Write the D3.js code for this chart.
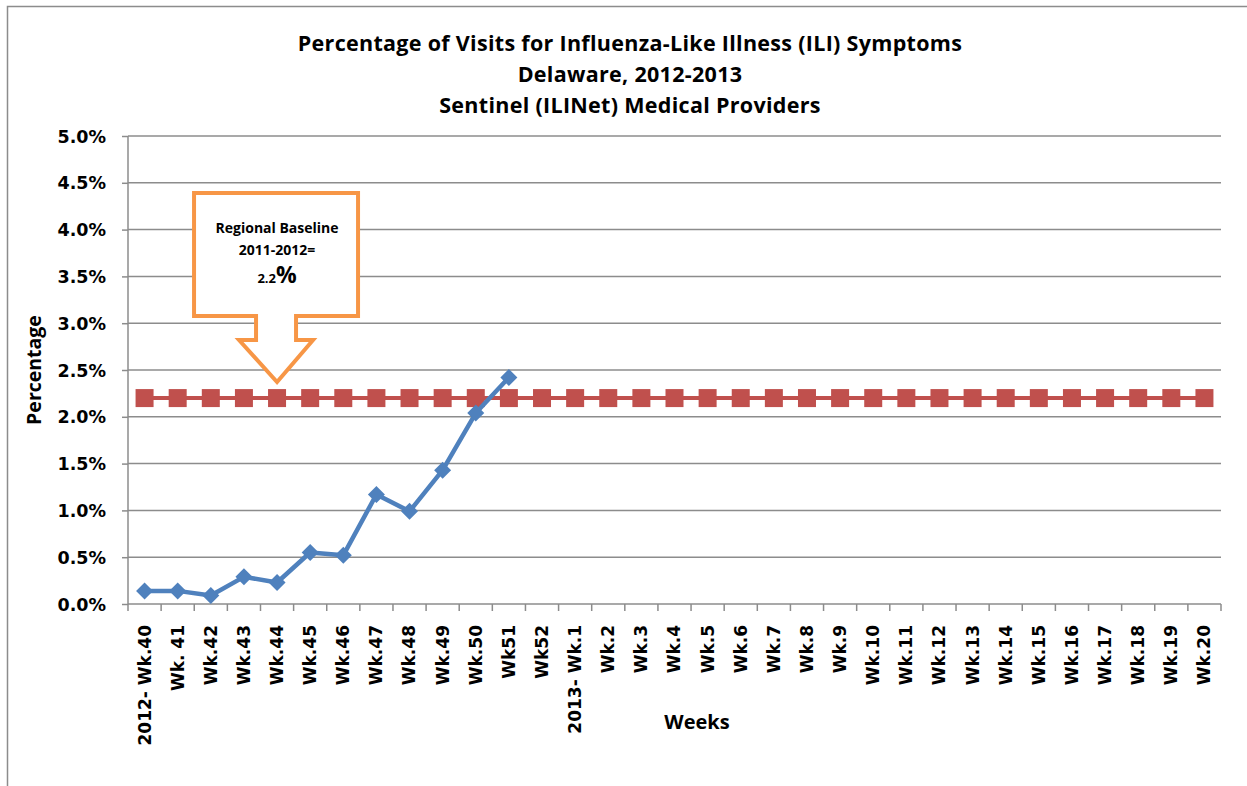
<!DOCTYPE html>
<html>
<head>
<meta charset="utf-8">
<script src="https://cdn.jsdelivr.net/npm/d3@7"></script>
<style>
  body { margin: 0; background: #fff; }
  svg text { font-family: "Open Sans", Lato, sans-serif; font-weight: bold; fill: #000; }
</style>
</head>
<body>
<div id="chart"></div>
<script>
// weeks of the 2012-2013 season
const weeks = ["2012- Wk.40", "Wk. 41", "Wk.42", "Wk.43", "Wk.44", "Wk.45", "Wk.46", "Wk.47",
  "Wk.48", "Wk.49", "Wk.50", "Wk51", "Wk52", "2013- Wk.1", "Wk.2", "Wk.3", "Wk.4", "Wk.5",
  "Wk.6", "Wk.7", "Wk.8", "Wk.9", "Wk.10", "Wk.11", "Wk.12", "Wk.13", "Wk.14", "Wk.15",
  "Wk.16", "Wk.17", "Wk.18", "Wk.19", "Wk.20"];

// ILI % reported so far (only up to Wk51)
const iliValues = [0.14, 0.14, 0.09, 0.29, 0.23, 0.55, 0.52, 1.17, 0.99, 1.43, 2.04, 2.42];

// regional baseline, same for every week
const baselineValue = 2.2;
const baseline = weeks.map(() => baselineValue);

const yTicks = [0, 0.5, 1, 1.5, 2, 2.5, 3, 3.5, 4, 4.5, 5];

const titleLines = ["Percentage of Visits for Influenza-Like Illness (ILI) Symptoms",
  "Delaware, 2012-2013", "Sentinel (ILINet) Medical Providers"];

const W = 1247, H = 786;
const margin = { top: 136, right: 26, bottom: 182, left: 128 },
  width = W - margin.left - margin.right,
  height = H - margin.top - margin.bottom;

const svg = d3.select("#chart").append("svg")
  .attr("width", W).attr("height", H);

// outer frame (only top and left show in the picture)
svg.append("path")
  .attr("d", "M7.5," + H + "V6.5H" + W)
  .attr("fill", "none").attr("stroke", "#8c8c8c").attr("stroke-width", 1.5);

const g = svg.append("g")
  .attr("transform", "translate(" + margin.left + "," + margin.top + ")");

const x = d3.scaleBand().domain(weeks).range([0, width]);
const y = d3.scaleLinear().domain([0, 5]).range([height, 0]);
const cx = d => x(d) + x.bandwidth() / 2;

// gridlines
g.selectAll(".grid").data(yTicks.slice(1)).enter().append("line")
  .attr("x1", 0).attr("x2", width)
  .attr("y1", d => y(d)).attr("y2", d => y(d))
  .attr("stroke", "#8c8c8c").attr("stroke-width", 1.5);

// y axis
const yAxis = g.append("g")
  .call(d3.axisLeft(y).tickValues(yTicks).tickFormat(d => d.toFixed(1) + "%").tickSize(6).tickPadding(16));
yAxis.selectAll("line, path").attr("stroke", "#8c8c8c").attr("stroke-width", 1.5);
yAxis.select(".domain").attr("d", "M0," + height + "V0");
yAxis.selectAll("text").style("font-size", "17.5px").style("font-family", "'DejaVu Sans', sans-serif")
  .attr("dy", "0.35em");

// x axis - ticks sit between categories
const xAxis = g.append("g").attr("transform", "translate(0," + height + ")");
xAxis.append("line").attr("x1", 0).attr("x2", width)
  .attr("stroke", "#8c8c8c").attr("stroke-width", 1.5);
xAxis.selectAll(".tk").data(weeks.concat(["end"])).enter().append("line")
  .attr("x1", (d, i) => i < weeks.length ? x(d) : width)
  .attr("x2", (d, i) => i < weeks.length ? x(d) : width)
  .attr("y1", 0).attr("y2", 7)
  .attr("stroke", "#8c8c8c").attr("stroke-width", 1.5);
xAxis.selectAll(".lbl").data(weeks).enter().append("text")
  .attr("transform", d => "translate(" + cx(d) + ",21) rotate(-90)")
  .attr("text-anchor", "end").attr("dy", "0.35em")
  .style("font-size", "17px").style("font-family", "'DejaVu Sans', sans-serif")
  .text(d => d);

// baseline series
g.append("path").datum(baseline)
  .attr("fill", "none").attr("stroke", "#C0504D").attr("stroke-width", 4)
  .attr("d", d3.line().x((d, i) => cx(weeks[i])).y(d => y(d)));
g.selectAll(".sq").data(baseline).enter().append("rect")
  .attr("x", (d, i) => cx(weeks[i]) - 9).attr("y", d => y(d) - 9)
  .attr("width", 18).attr("height", 18)
  .attr("fill", "#C0504D");

// ILI series
g.append("path").datum(iliValues)
  .attr("fill", "none").attr("stroke", "#4F81BD").attr("stroke-width", 4.5)
  .attr("stroke-linejoin", "round")
  .attr("d", d3.line().x((d, i) => cx(weeks[i])).y(d => y(d)));
g.selectAll(".dm").data(iliValues).enter().append("path")
  .attr("transform", (d, i) => "translate(" + cx(weeks[i]) + "," + y(d) + ")")
  .attr("d", "M0,-8.5L8.5,0L0,8.5L-8.5,0Z")
  .attr("fill", "#4F81BD");

// callout pointing down at the baseline
const tipX = cx("Wk.44");
const tipY = 382 - margin.top;
const co = { l: tipX - 83, r: tipX + 81, t: 193 - margin.top, b: 316 - margin.top };
const stemL = tipX - 21, stemR = tipX + 19, headY = tipY - 42;
g.append("path")
  .attr("d", "M" + co.l + "," + co.t + "H" + co.r + "V" + co.b + "H" + stemR + "V" + headY +
    "H" + (tipX + 36) + "L" + tipX + "," + tipY + "L" + (tipX - 38) + "," + headY +
    "H" + stemL + "V" + co.b + "H" + co.l + "Z")
  .attr("fill", "#fff").attr("stroke", "#F79646").attr("stroke-width", 4)
  .attr("stroke-linejoin", "miter");
const coText = g.append("g").attr("text-anchor", "middle");
coText.append("text").attr("x", tipX).attr("y", 233 - margin.top)
  .style("font-size", "14px").text("Regional Baseline");
coText.append("text").attr("x", tipX).attr("y", 255 - margin.top)
  .style("font-size", "14px").text("2011-2012=");
const pct = coText.append("text").attr("x", tipX).attr("y", 283 - margin.top);
pct.append("tspan").style("font-size", "13px").text(baselineValue.toFixed(1));
pct.append("tspan").style("font-size", "23px").text("%");

// titles
svg.append("g").selectAll("text").data(titleLines).enter().append("text")
  .attr("x", 630).attr("y", (d, i) => 51 + i * 31)
  .attr("text-anchor", "middle").style("font-size", "21.5px")
  .style("letter-spacing", "0.3px")
  .text(d => d);

// axis titles
svg.append("text")
  .attr("transform", "translate(41," + 370 + ") rotate(-90)")
  .attr("text-anchor", "middle").style("font-size", "19.5px")
  .text("Percentage");
svg.append("text")
  .attr("x", 697).attr("y", 729).attr("text-anchor", "middle")
  .style("font-size", "20px").text("Weeks");
</script>
</body>
</html>
